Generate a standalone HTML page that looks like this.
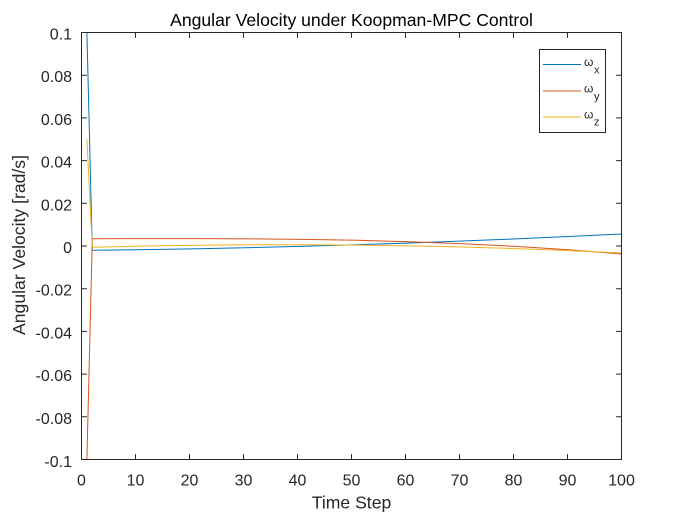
<!DOCTYPE html>
<html>
<head>
<meta charset="utf-8">
<style>
  html,body{margin:0;padding:0;background:#fff;}
  svg{display:block;}
  text{font-family:"Liberation Sans",Arial,sans-serif;fill:#262626;}
</style>
</head>
<body>
<svg width="675" height="515" viewBox="0 0 675 515" xmlns="http://www.w3.org/2000/svg">
  <rect x="0" y="0" width="675" height="515" fill="#fff"/>

  <!-- data series -->
  <g fill="none" stroke-width="1" stroke-linejoin="round">
    <polyline stroke="#0072BD" points="86.9,32.5 92.3,250.3 145.22,249.6 198.14,248.69 251.06,247.57 303.98,246.25 356.9,244.73 409.82,242.99 462.74,241.05 515.66,238.91 568.58,236.56 621.5,234.0"/>
    <polyline stroke="#D95319" points="86.9,459.5 92.3,238.7 145.22,238.58 198.14,238.6 251.06,238.83 303.98,239.37 356.9,240.3 409.82,241.72 462.74,243.71 515.66,246.36 568.58,249.76 621.5,254.0"/>
    <polyline stroke="#EDB120" points="86.9,139.2 92.3,247.3 145.22,246.05 198.14,245.21 251.06,244.77 303.98,244.73 356.9,245.1 409.82,245.87 462.74,247.05 515.66,248.63 568.58,250.61 621.5,253.0"/>
  </g>

  <!-- axes box -->
  <rect x="81.5" y="32.5" width="540" height="427" fill="none" stroke="#262626" stroke-width="1"/>

  <!-- ticks -->
  <g stroke="#262626" stroke-width="1">
    <path d="M135.5,459.5v-5.4 M189.5,459.5v-5.4 M243.5,459.5v-5.4 M297.5,459.5v-5.4 M351.5,459.5v-5.4 M405.5,459.5v-5.4 M459.5,459.5v-5.4 M513.5,459.5v-5.4 M567.5,459.5v-5.4
             M135.5,32.5v5.4 M189.5,32.5v5.4 M243.5,32.5v5.4 M297.5,32.5v5.4 M351.5,32.5v5.4 M405.5,32.5v5.4 M459.5,32.5v5.4 M513.5,32.5v5.4 M567.5,32.5v5.4"/>
    <path d="M81.5,75.2h5.4 M81.5,117.9h5.4 M81.5,160.6h5.4 M81.5,203.3h5.4 M81.5,246h5.4 M81.5,288.7h5.4 M81.5,331.4h5.4 M81.5,374.1h5.4 M81.5,416.8h5.4
             M621.5,75.2h-5.4 M621.5,117.9h-5.4 M621.5,160.6h-5.4 M621.5,203.3h-5.4 M621.5,246h-5.4 M621.5,288.7h-5.4 M621.5,331.4h-5.4 M621.5,374.1h-5.4 M621.5,416.8h-5.4"/>
  </g>

  <!-- y tick labels -->
  <g font-size="16" text-anchor="end">
    <text x="72" y="39.5">0.1</text>
    <text x="72" y="82.2">0.08</text>
    <text x="72" y="124.9">0.06</text>
    <text x="72" y="167.6">0.04</text>
    <text x="72" y="210.3">0.02</text>
    <text x="72" y="253">0</text>
    <text x="72" y="295.7">-0.02</text>
    <text x="72" y="338.4">-0.04</text>
    <text x="72" y="381.1">-0.06</text>
    <text x="72" y="423.8">-0.08</text>
    <text x="72" y="467">-0.1</text>
  </g>

  <!-- x tick labels -->
  <g font-size="16" text-anchor="middle">
    <text x="81.5" y="485.5">0</text>
    <text x="135.5" y="485.5">10</text>
    <text x="189.5" y="485.5">20</text>
    <text x="243.5" y="485.5">30</text>
    <text x="297.5" y="485.5">40</text>
    <text x="351.5" y="485.5">50</text>
    <text x="405.5" y="485.5">60</text>
    <text x="459.5" y="485.5">70</text>
    <text x="513.5" y="485.5">80</text>
    <text x="567.5" y="485.5">90</text>
    <text x="621.5" y="485.5">100</text>
  </g>

  <!-- axis labels & title -->
  <text x="351.5" y="508.5" font-size="17.6" text-anchor="middle">Time Step</text>
  <text transform="translate(25,245) rotate(-90)" font-size="17.6" text-anchor="middle">Angular Velocity [rad/s]</text>
  <text x="351.5" y="26" font-size="17.6" text-anchor="middle" style="fill:#000">Angular Velocity under Koopman-MPC Control</text>

  <!-- legend -->
  <rect x="539.5" y="49.5" width="66" height="83" fill="#fff" stroke="#262626" stroke-width="1"/>
  <g stroke-width="1">
    <line x1="543" y1="64.5" x2="581" y2="64.5" stroke="#0072BD"/>
    <line x1="543" y1="91" x2="581" y2="91" stroke="#D95319"/>
    <line x1="543" y1="117" x2="581" y2="117" stroke="#EDB120"/>
  </g>
  <g font-size="12">
    <text x="584" y="66">ω</text>
    <text x="594" y="73.5" font-size="11">x</text>
    <text x="584" y="92.5">ω</text>
    <text x="594" y="100" font-size="11">y</text>
    <text x="584" y="118.5">ω</text>
    <text x="594" y="125.5" font-size="11">z</text>
  </g>
</svg>
</body>
</html>
